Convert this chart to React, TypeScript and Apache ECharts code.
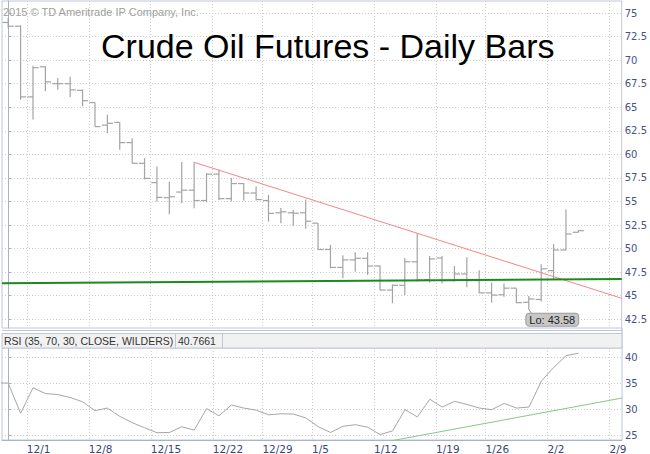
import React, { useEffect, useRef } from 'react';
import * as echarts from 'echarts';

// Trading sessions shown on the chart (last three are empty future slots)
const tradingDays: string[] = [
  '2014-11-26', '2014-11-28',
  '2014-12-01', '2014-12-02', '2014-12-03', '2014-12-04', '2014-12-05',
  '2014-12-08', '2014-12-09', '2014-12-10', '2014-12-11', '2014-12-12',
  '2014-12-15', '2014-12-16', '2014-12-17', '2014-12-18', '2014-12-19',
  '2014-12-22', '2014-12-23', '2014-12-24', '2014-12-26',
  '2014-12-29', '2014-12-30', '2014-12-31', '2015-01-02',
  '2015-01-05', '2015-01-06', '2015-01-07', '2015-01-08', '2015-01-09',
  '2015-01-12', '2015-01-13', '2015-01-14', '2015-01-15', '2015-01-16',
  '2015-01-20', '2015-01-21', '2015-01-22', '2015-01-23',
  '2015-01-26', '2015-01-27', '2015-01-28', '2015-01-29', '2015-01-30',
  '2015-02-02', '2015-02-03', '2015-02-04', '2015-02-05', '2015-02-06',
  '2015-02-09',
];

// Weekly axis labels
const weekStarts: string[] = [
  '2014-12-01', '2014-12-08', '2014-12-15', '2014-12-22', '2014-12-29',
  '2015-01-05', '2015-01-12', '2015-01-19', '2015-01-26', '2015-02-02', '2015-02-09',
];

const opens = [
  74.0, 73.6, 66.1, 69.3, 67.5, 67.5, 66.8, 65.5, 63.1, 63.4,
  61.25, 59.05, 57.0, 55.4, 56.0, 56.2, 55.1, 57.9, 55.3, 56.9,
  55.9, 55.1, 53.8, 53.8, 53.8, 52.7, 49.9, 48.0, 48.8, 48.97,
  48.15, 45.6, 46.1, 48.6, 46.7, 49.0, 46.6, 47.3, 46.6, 45.3,
  45.1, 45.8, 44.3, 44.6, 47.66, 49.85, 51.73,
];
const highs = [
  74.5, 73.7, 69.4, 69.35, 68.1, 68.25, 66.9, 65.5, 64.2, 63.4,
  61.7, 59.6, 58.7, 57.1, 59.2, 59.16, 58.0, 58.4, 57.5, 56.95,
  56.6, 55.7, 54.3, 54.1, 55.2, 52.7, 50.4, 49.3, 49.6, 49.6,
  48.2, 46.2, 49.0, 51.62, 49.2, 49.2, 48.15, 49.07, 47.7, 46.4,
  46.3, 45.8, 44.97, 48.33, 50.5, 54.17, 51.97,
];
const lows = [
  73.4, 65.8, 63.7, 66.7, 66.85, 66.1, 65.1, 62.95, 62.25, 60.5,
  59.05, 57.35, 54.98, 53.64, 54.8, 54.27, 54.9, 55.16, 55.0, 55.1,
  55.1, 52.86, 52.7, 52.4, 52.1, 49.85, 47.9, 46.84, 47.55, 47.2,
  45.55, 44.2, 45.07, 46.5, 46.4, 46.3, 46.5, 45.9, 45.25, 44.26,
  44.9, 44.2, 43.58, 44.37, 46.74, 49.8, 51.7,
];
const closes = [
  73.6, 66.1, 69.2, 67.7, 67.5, 66.85, 65.7, 62.95, 63.3, 61.25,
  59.05, 57.45, 55.44, 55.5, 56.2, 55.1, 57.9, 55.3, 56.9, 55.9,
  55.2, 53.74, 53.9, 53.75, 52.9, 49.9, 48.0, 48.8, 48.97, 48.15,
  45.6, 46.1, 48.6, 46.67, 48.9, 46.6, 47.3, 46.6, 45.3, 45.07,
  45.8, 44.26, 44.65, 47.85, 49.85, 51.55, 51.9,
];

// RSI(35) — value of the session before the first visible bar, then one per bar
const rsiLead = 35.1;
const rsi = [
  35.0, 29.2, 34.1, 33.0, 32.8, 32.25, 31.4, 29.7, 30.2, 28.6,
  27.4, 26.4, 25.45, 25.5, 26.6, 25.95, 30.1, 28.7, 30.8, 30.2,
  29.8, 28.9, 29.1, 29.05, 28.3, 26.6, 25.5, 26.7, 27.0, 26.5,
  25.1, 25.8, 29.9, 28.5, 31.9, 30.4, 31.5, 30.9, 30.2, 29.9,
  31.1, 30.2, 30.4, 35.4, 38.05, 40.3, 40.7661,
];

const priceTicks = [42.5, 45, 47.5, 50, 52.5, 55, 57.5, 60, 62.5, 65, 67.5, 70, 72.5, 75];
const rsiTicks = [25, 30, 35, 40];

// Drawn trend lines
const resistanceFromIndex = 15;
const resistanceEndValue = 44.72;
const supportValues = [46.33, 46.77];
const rsiTrendFromIndex = 30;
const rsiTrendValues = [23.5, 32.13];

const xMin = -0.5;
const xMax = tradingDays.length - 0.5;

const weekBounds = weekStarts.map((w) => tradingDays.findIndex((d) => d >= w) - 0.5);
const weekLabel = (iso: string) => {
  const [, m, d] = iso.split('-');
  return `${parseInt(m, 10)}/${parseInt(d, 10)}`;
};
const boundLabel = (v: number) => {
  const k = weekBounds.findIndex((b) => Math.abs(b - v) < 1e-6);
  return k >= 0 ? weekLabel(weekStarts[k]) : '';
};

const GRID_LINE = '#bfc6d6';
const AXIS_LINE = '#a9b2c9';
const SPLIT = { color: '#cdcdcd', type: [1, 2] as number[], width: 1 };

function makeX(gridIndex: number, labels: boolean) {
  return {
    type: 'value',
    gridIndex,
    min: xMin,
    max: xMax,
    axisLine: { show: labels, lineStyle: { color: AXIS_LINE } },
    axisTick: { show: false, customValues: weekBounds },
    axisLabel: {
      show: labels,
      customValues: weekBounds,
      formatter: (v: number) => boundLabel(v),
      align: 'left',
      margin: 3,
      color: '#384679',
      fontFamily: 'DejaVu Sans',
      fontSize: 10.5,
    },
    splitLine: { show: true, lineStyle: SPLIT },
  };
}

export default function App() {
  const ref = useRef<HTMLDivElement>(null);

  useEffect(() => {
    if (!ref.current) return;
    const chart = echarts.init(ref.current, undefined, { renderer: 'svg' });

    const ohlc = opens.map((o, i) => [i, o, highs[i], lows[i], closes[i]]);
    const loVal = Math.min(...lows);
    const loIdx = lows.indexOf(loVal);
    const rsiData = [[-1, rsiLead], ...rsi.map((v, i) => [i, v])];
    const lastRsi = rsi[rsi.length - 1];

    const option: any = {
      animation: false,
      backgroundColor: '#ffffff',
      grid: [
        { left: 2, right: 28, top: 1, height: 327, show: true, borderColor: GRID_LINE, borderWidth: 1 },
        { left: 2, right: 28, top: 348, height: 93.7, show: true, borderColor: GRID_LINE, borderWidth: 1 },
      ],
      xAxis: [makeX(0, false), makeX(1, true)],
      yAxis: [
        {
          type: 'value',
          gridIndex: 0,
          position: 'right',
          min: 41.57,
          max: 76.28,
          axisLine: { show: true, lineStyle: { color: AXIS_LINE } },
          axisTick: { show: true, length: 3, customValues: priceTicks, lineStyle: { color: AXIS_LINE } },
          axisLabel: {
            customValues: priceTicks,
            margin: 3,
            color: '#44528a',
            fontFamily: 'DejaVu Sans',
            fontSize: 10,
            formatter: (v: number) => String(v),
          },
          splitLine: { show: true, lineStyle: SPLIT },
        },
        {
          type: 'value',
          gridIndex: 1,
          position: 'right',
          min: 24.05,
          max: 41.77,
          axisLine: { show: true, lineStyle: { color: AXIS_LINE } },
          axisTick: { show: true, length: 3, customValues: rsiTicks, lineStyle: { color: AXIS_LINE } },
          axisLabel: {
            customValues: rsiTicks,
            margin: 3,
            color: '#44528a',
            fontFamily: 'DejaVu Sans',
            fontSize: 10,
            formatter: (v: number) => String(v),
          },
          splitLine: { show: true, lineStyle: SPLIT },
        },
      ],
      series: [
        {
          type: 'custom',
          name: 'Crude Oil',
          xAxisIndex: 0,
          yAxisIndex: 0,
          data: ohlc,
          encode: { x: 0, y: [1, 2, 3, 4] },
          clip: true,
          renderItem: (params: any, api: any) => {
            const x = api.value(0);
            const o = api.coord([x, api.value(1)]);
            const h = api.coord([x, api.value(2)]);
            const l = api.coord([x, api.value(3)]);
            const c = api.coord([x, api.value(4)]);
            const w = api.size([1, 0])[0] * 0.45;
            const style = { stroke: '#a3a3a3', lineWidth: 1.2, fill: null };
            return {
              type: 'group',
              children: [
                { type: 'line', shape: { x1: h[0], y1: h[1], x2: l[0], y2: l[1] }, style },
                { type: 'line', shape: { x1: o[0] - w, y1: o[1], x2: o[0], y2: o[1] }, style },
                { type: 'line', shape: { x1: c[0], y1: c[1], x2: c[0] + w, y2: c[1] }, style },
              ],
            };
          },
        },
        {
          type: 'line',
          name: 'Resistance',
          xAxisIndex: 0,
          yAxisIndex: 0,
          symbol: 'none',
          data: [
            [resistanceFromIndex, highs[resistanceFromIndex]],
            [xMax, resistanceEndValue],
          ],
          lineStyle: { color: '#f48686', width: 1 },
        },
        {
          type: 'line',
          name: 'Support',
          xAxisIndex: 0,
          yAxisIndex: 0,
          symbol: 'none',
          data: [
            [xMin, supportValues[0]],
            [xMax, supportValues[1]],
          ],
          lineStyle: { color: '#1d8a1d', width: 2 },
          markLine: {
            silent: true,
            symbol: ['none', 'none'],
            label: { show: false },
            lineStyle: { color: '#8a8a8a', width: 1, type: 'solid' },
            data: [[{ coord: [loIdx, loVal] }, { coord: [loIdx + 0.2, loVal - 0.45] }]],
          },
          markPoint: {
            silent: true,
            symbol: 'circle',
            symbolSize: 1,
            itemStyle: { color: 'rgba(0,0,0,0)' },
            data: [{ coord: [loIdx, loVal], value: loVal }],
            label: {
              show: true,
              position: 'inside',
              offset: [23.5, 10.6],
              formatter: 'Lo: ' + loVal.toFixed(2),
              backgroundColor: '#c7c7c7',
              borderColor: '#9c9c9c',
              borderWidth: 1,
              borderRadius: 3,
              padding: [1, 3, 0, 3],
              color: '#1e1e1e',
              fontFamily: 'Liberation Sans',
              fontSize: 11,
            },
          },
        },
        {
          type: 'line',
          name: 'RSI',
          xAxisIndex: 1,
          yAxisIndex: 1,
          symbol: 'none',
          data: rsiData,
          lineStyle: { color: '#a6a6a6', width: 1 },
        },
        {
          type: 'line',
          name: 'RSI trend',
          xAxisIndex: 1,
          yAxisIndex: 1,
          symbol: 'none',
          data: [
            [rsiTrendFromIndex, rsiTrendValues[0]],
            [xMax, rsiTrendValues[1]],
          ],
          lineStyle: { color: '#84c984', width: 1 },
        },
      ],
      graphic: [
        {
          type: 'text',
          z: 100,
          style: {
            text: '2015 \u00a9 TD Ameritrade IP Company, Inc.',
            x: 3,
            y: 12,
            verticalAlign: 'middle',
            fill: '#a0a0a0',
            fontFamily: 'Liberation Sans',
            fontSize: 11,
          },
        },
        {
          type: 'text',
          z: 100,
          style: {
            text: 'Crude Oil Futures - Daily Bars',
            x: 101,
            y: 46,
            verticalAlign: 'middle',
            fill: '#000000',
            fontFamily: 'Liberation Sans',
            fontSize: 34,
          },
        },
        {
          type: 'line',
          z: 100,
          shape: { x1: 2, y1: 330.5, x2: 622, y2: 330.5 },
          style: { stroke: GRID_LINE, lineWidth: 1 },
        },
        {
          type: 'line',
          z: 100,
          shape: { x1: 622, y1: 328, x2: 622, y2: 348 },
          style: { stroke: AXIS_LINE, lineWidth: 1 },
        },
        {
          type: 'rect',
          z: 100,
          shape: { x: 2, y: 333.5, width: 620, height: 14.5 },
          style: { fill: '#f1f1f1', stroke: GRID_LINE, lineWidth: 1 },
        },
        {
          type: 'line',
          z: 101,
          shape: { x1: 175.5, y1: 333.5, x2: 175.5, y2: 348 },
          style: { stroke: GRID_LINE, lineWidth: 1 },
        },
        {
          type: 'line',
          z: 101,
          shape: { x1: 222.5, y1: 333.5, x2: 222.5, y2: 348 },
          style: { stroke: GRID_LINE, lineWidth: 1 },
        },
        {
          type: 'text',
          z: 102,
          style: {
            text: 'RSI (35, 70, 30, CLOSE, WILDERS)',
            x: 4,
            y: 341,
            verticalAlign: 'middle',
            fill: '#333333',
            fontFamily: 'Liberation Sans',
            fontSize: 10.5,
          },
        },
        {
          type: 'text',
          z: 102,
          style: {
            text: lastRsi.toFixed(4),
            x: 178,
            y: 341,
            verticalAlign: 'middle',
            fill: '#333333',
            fontFamily: 'Liberation Sans',
            fontSize: 10.5,
          },
        },
      ],
    };

    chart.setOption(option);
    return () => chart.dispose();
  }, []);

  return (
    <div
      ref={ref}
      style={{ position: 'fixed', left: 0, top: 0, width: 650, height: 454, background: '#fff' }}
    />
  );
}
